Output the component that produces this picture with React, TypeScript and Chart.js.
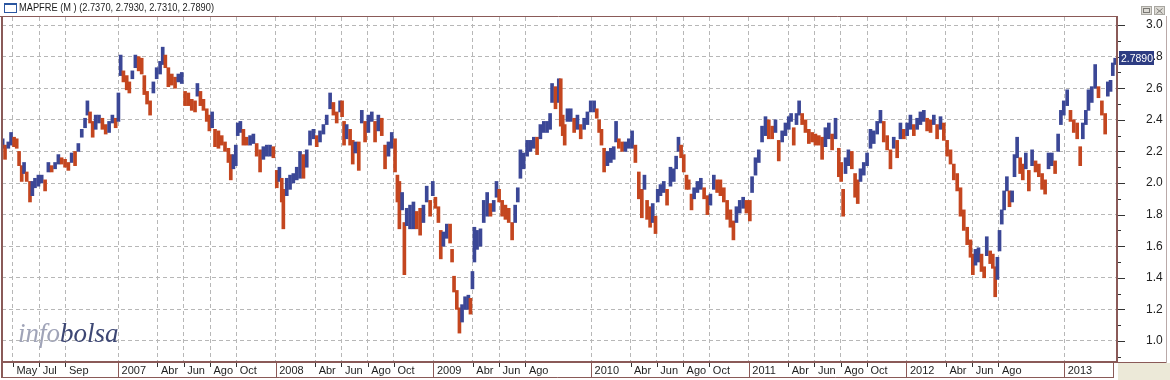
import React, { useEffect, useRef } from 'react';
import { Chart, registerables } from 'chart.js';
Chart.register(...registerables);

// ---- data -------------------------------------------------------------
const SYMBOL = 'MAPFRE (M )';
// last session: open, high, low, close
const lastBar = [2.737, 2.793, 2.731, 2.789];

// x tick positions: months since Jan 2006 (0 = Jan 2006)
const tickMonths = [4, 6, 8, 12, 15, 17, 19, 21, 24, 27, 29, 31, 33, 36, 39, 41, 43, 48, 51, 53, 55, 57, 60, 63, 65, 67, 69, 72, 75, 77, 79, 84];
const tickLabels = ['May', 'Jul', 'Sep', '2007', 'Abr', 'Jun', 'Ago', 'Oct', '2008', 'Abr', 'Jun', 'Ago', 'Oct', '2009', 'Abr', 'Jun', 'Ago', '2010', 'Abr', 'Jun', 'Ago', 'Oct', '2011', 'Abr', 'Jun', 'Ago', 'Oct', '2012', 'Abr', 'Jun', 'Ago', '2013'];

// Apr 2006 - Dec 2007 (months since Jan 2006)
const datesA = [
  3.22, 3.40, 3.65, 3.86, 4.09, 4.29, 4.47, 4.67, 4.85, 5.05,
  5.30, 5.48, 5.68, 5.94, 6.19, 6.45, 6.70, 6.95, 7.21, 7.46,
  7.71, 7.97, 8.22, 8.47, 8.73, 8.98, 9.24, 9.49, 9.67, 9.87,
  10.07, 10.30, 10.55, 10.81, 11.06, 11.32, 11.57, 11.82, 12.03, 12.20,
  12.41, 12.66, 12.86, 13.09, 13.32, 13.57, 13.80, 14.00, 14.21, 14.44,
  14.69, 14.94, 15.20, 15.40, 15.60, 15.83, 16.09, 16.34, 16.59, 16.85,
  17.10, 17.35, 17.61, 17.86, 18.04, 18.27, 18.50, 18.75, 18.95, 19.16,
  19.38, 19.64, 19.89, 20.14, 20.40, 20.58, 20.78, 20.96, 21.11, 21.31,
  21.54, 21.79, 22.05, 22.30, 22.55, 22.81, 23.06, 23.32, 23.57, 23.82,
  24.08, 24.28,
];
const highsA = [
  2.28, 2.24, 2.26, 2.32, 2.29, 2.28, 2.20, 2.11, 2.13, 2.07,
  2.01, 2.01, 2.03, 2.05, 2.05, 2.02, 2.13, 2.11, 2.13, 2.18,
  2.16, 2.15, 2.13, 2.19, 2.20, 2.25, 2.34, 2.41, 2.52, 2.45,
  2.39, 2.43, 2.43, 2.41, 2.37, 2.39, 2.43, 2.41, 2.57, 2.81,
  2.71, 2.68, 2.64, 2.71, 2.81, 2.80, 2.79, 2.68, 2.58, 2.52,
  2.64, 2.73, 2.77, 2.86, 2.81, 2.73, 2.69, 2.67, 2.69, 2.70,
  2.58, 2.57, 2.53, 2.52, 2.63, 2.58, 2.53, 2.47, 2.43, 2.45,
  2.34, 2.33, 2.30, 2.26, 2.22, 2.18, 2.18, 2.24, 2.38, 2.39,
  2.34, 2.29, 2.30, 2.31, 2.25, 2.21, 2.23, 2.24, 2.24, 2.23,
  2.08, 2.10,
];
const lowsA = [
  2.22, 2.15, 2.22, 2.24, 2.23, 2.22, 2.11, 2.01, 2.06, 2.01,
  1.88, 1.92, 1.97, 1.98, 2.00, 1.95, 2.07, 2.07, 2.09, 2.12,
  2.12, 2.10, 2.08, 2.13, 2.11, 2.20, 2.29, 2.35, 2.43, 2.38,
  2.29, 2.34, 2.38, 2.34, 2.31, 2.32, 2.38, 2.35, 2.39, 2.68,
  2.64, 2.59, 2.57, 2.66, 2.73, 2.71, 2.69, 2.56, 2.50, 2.43,
  2.57, 2.66, 2.69, 2.75, 2.73, 2.61, 2.62, 2.60, 2.64, 2.63,
  2.49, 2.49, 2.46, 2.45, 2.55, 2.49, 2.46, 2.39, 2.33, 2.35,
  2.23, 2.22, 2.24, 2.20, 2.13, 2.02, 2.09, 2.11, 2.30, 2.32,
  2.24, 2.24, 2.24, 2.25, 2.17, 2.07, 2.15, 2.17, 2.17, 2.16,
  1.97, 2.01,
];

// Jan 2008 - Oct 2009
const datesB = [
  24.46, 24.58, 24.84, 25.09, 25.34, 25.60, 25.85, 26.11, 26.36, 26.61,
  26.87, 27.12, 27.37, 27.63, 27.88, 28.14, 28.39, 28.64, 28.90, 29.05,
  29.20, 29.40, 29.66, 29.86, 30.06, 30.32, 30.55, 30.80, 31.05, 31.31,
  31.56, 31.81, 32.07, 32.32, 32.58, 32.83, 33.08, 33.26, 33.41, 33.62,
  33.79, 33.97, 34.22, 34.48, 34.73, 34.99, 35.24, 35.49, 35.75, 35.95,
  36.15, 36.38, 36.56, 36.76, 37.02, 37.27, 37.42, 37.57, 37.78, 37.98,
  38.18, 38.41, 38.66, 38.82, 38.97, 39.12, 39.32, 39.58, 39.83, 40.09,
  40.34, 40.59, 40.80, 41.00, 41.23, 41.48, 41.73, 41.99, 42.22, 42.42,
  42.62, 42.87, 43.13, 43.38, 43.64, 43.89, 44.14, 44.40, 44.65, 44.88,
  45.03, 45.29, 45.54,
];
const highsB = [
  2.03, 1.96, 2.03, 2.05, 2.06, 2.10, 2.20, 2.18, 2.21, 2.33,
  2.34, 2.30, 2.33, 2.37, 2.43, 2.57, 2.51, 2.45, 2.52, 2.52,
  2.39, 2.37, 2.34, 2.27, 2.26, 2.26, 2.46, 2.39, 2.43, 2.45,
  2.39, 2.43, 2.41, 2.24, 2.26, 2.32, 2.28, 2.05, 2.01, 1.94,
  1.75, 1.84, 1.86, 1.88, 1.82, 1.84, 1.86, 1.98, 1.89, 2.01,
  1.91, 1.85, 1.70, 1.69, 1.74, 1.74, 1.58, 1.41, 1.32, 1.21,
  1.23, 1.28, 1.29, 1.27, 1.44, 1.72, 1.70, 1.71, 1.89, 1.94,
  1.87, 1.89, 2.01, 1.96, 1.89, 1.86, 1.84, 1.75, 1.86, 1.97,
  2.21, 2.19, 2.27, 2.27, 2.29, 2.29, 2.37, 2.39, 2.39, 2.44,
  2.63, 2.61, 2.66,
];
const lowsB = [
  1.88, 1.71, 1.92, 1.96, 2.00, 2.02, 2.03, 2.03, 2.10, 2.24,
  2.28, 2.23, 2.26, 2.31, 2.37, 2.47, 2.43, 2.38, 2.45, 2.42,
  2.24, 2.28, 2.24, 2.12, 2.19, 2.08, 2.38, 2.26, 2.32, 2.39,
  2.26, 2.33, 2.30, 2.09, 2.17, 2.22, 2.07, 1.88, 1.71, 1.83,
  1.42, 1.73, 1.71, 1.71, 1.71, 1.67, 1.75, 1.88, 1.79, 1.92,
  1.84, 1.75, 1.52, 1.60, 1.65, 1.62, 1.50, 1.31, 1.20, 1.05,
  1.12, 1.20, 1.20, 1.17, 1.33, 1.50, 1.58, 1.60, 1.75, 1.79,
  1.79, 1.82, 1.91, 1.88, 1.79, 1.77, 1.75, 1.64, 1.75, 1.88,
  2.03, 2.09, 2.17, 2.20, 2.22, 2.18, 2.28, 2.32, 2.32, 2.34,
  2.51, 2.47, 2.51,
];

// Oct 2009 - Jul 2011
const datesC = [
  45.69, 45.84, 45.99, 46.20, 46.45, 46.71, 46.96, 47.21, 47.47, 47.72,
  47.97, 48.23, 48.43, 48.61, 48.79, 48.99, 49.24, 49.50, 49.72, 49.90,
  50.11, 50.36, 50.61, 50.87, 51.12, 51.37, 51.63, 51.86, 52.06, 52.26,
  52.49, 52.69, 52.90, 53.07, 53.28, 53.53, 53.78, 54.04, 54.29, 54.47,
  54.65, 54.85, 55.05, 55.26, 55.43, 55.64, 55.84, 56.09, 56.35, 56.60,
  56.85, 57.08, 57.34, 57.59, 57.84, 58.10, 58.35, 58.60, 58.83, 59.06,
  59.31, 59.57, 59.82, 60.08, 60.25, 60.51, 60.76, 61.01, 61.27, 61.52,
  61.78, 62.03, 62.28, 62.54, 62.79, 63.04, 63.22, 63.42, 63.63, 63.83,
  64.06, 64.31, 64.57, 64.82, 65.07, 65.33, 65.58, 65.83, 66.09, 66.34,
  66.60, 66.85,
];
const highsC = [
  2.66, 2.43, 2.37, 2.47, 2.47, 2.41, 2.43, 2.37, 2.41, 2.45,
  2.52, 2.52, 2.47, 2.40, 2.34, 2.22, 2.20, 2.22, 2.23, 2.39,
  2.28, 2.26, 2.26, 2.28, 2.33, 2.24, 2.07, 1.96, 2.05, 1.89,
  1.85, 1.87, 1.79, 1.96, 1.99, 2.01, 1.96, 2.10, 2.09, 2.17,
  2.29, 2.24, 2.18, 2.05, 2.02, 1.93, 1.97, 2.01, 2.03, 1.97,
  1.92, 1.93, 2.05, 2.02, 2.02, 1.97, 1.89, 1.83, 1.76, 1.85,
  1.89, 1.91, 1.89, 1.89, 2.04, 2.16, 2.21, 2.36, 2.42, 2.40,
  2.36, 2.40, 2.27, 2.33, 2.38, 2.42, 2.44, 2.35, 2.44, 2.52,
  2.44, 2.40, 2.34, 2.32, 2.31, 2.30, 2.29, 2.35, 2.38, 2.31,
  2.41, 2.22,
];
const lowsC = [
  2.36, 2.30, 2.24, 2.39, 2.39, 2.32, 2.34, 2.28, 2.34, 2.37,
  2.45, 2.45, 2.41, 2.32, 2.24, 2.07, 2.11, 2.13, 2.15, 2.26,
  2.22, 2.20, 2.20, 2.22, 2.22, 2.13, 1.90, 1.78, 1.96, 1.77,
  1.72, 1.75, 1.68, 1.88, 1.92, 1.94, 1.86, 1.98, 2.01, 2.09,
  2.20, 2.16, 2.07, 1.96, 1.96, 1.83, 1.90, 1.94, 1.96, 1.90,
  1.80, 1.86, 1.96, 1.94, 1.92, 1.88, 1.77, 1.72, 1.64, 1.75,
  1.81, 1.84, 1.81, 1.76, 1.94, 2.05, 2.13, 2.26, 2.30, 2.28,
  2.28, 2.32, 2.14, 2.26, 2.30, 2.34, 2.39, 2.24, 2.37, 2.43,
  2.37, 2.32, 2.25, 2.26, 2.24, 2.24, 2.15, 2.23, 2.28, 2.21,
  2.28, 2.04,
];

// Jul 2011 - Apr 2013
const datesD = [
  67.03, 67.18, 67.36, 67.58, 67.84, 68.09, 68.29, 68.50, 68.75, 69.00,
  69.26, 69.51, 69.77, 70.02, 70.27, 70.53, 70.78, 71.03, 71.29, 71.54,
  71.80, 72.05, 72.30, 72.56, 72.81, 73.06, 73.32, 73.57, 73.83, 74.08,
  74.33, 74.59, 74.84, 75.09, 75.35, 75.60, 75.86, 76.11, 76.36, 76.62,
  76.87, 77.05, 77.25, 77.48, 77.71, 77.91, 78.11, 78.37, 78.57, 78.75,
  78.92, 79.08, 79.25, 79.43, 79.64, 79.84, 80.04, 80.22, 80.42, 80.65,
  80.85, 81.08, 81.31, 81.56, 81.82, 82.07, 82.32, 82.55, 82.81, 83.06,
  83.31, 83.54, 83.75, 83.97, 84.23, 84.48, 84.73, 84.99, 85.22, 85.42,
  85.65, 85.85, 86.10, 86.36, 86.61, 86.87, 87.12, 87.32, 87.53, 87.70,
  87.88,
];
const highsD = [
  2.13, 1.96, 2.16, 2.21, 2.20, 2.06, 2.02, 2.09, 2.13, 2.19,
  2.34, 2.33, 2.39, 2.46, 2.39, 2.30, 2.21, 2.29, 2.27, 2.38,
  2.34, 2.38, 2.43, 2.37, 2.41, 2.45, 2.46, 2.41, 2.40, 2.43,
  2.37, 2.42, 2.38, 2.27, 2.21, 2.12, 2.06, 1.97, 1.83, 1.72,
  1.64, 1.55, 1.58, 1.59, 1.55, 1.47, 1.66, 1.57, 1.55, 1.47,
  1.53, 1.70, 1.83, 1.95, 2.04, 1.95, 1.95, 2.18, 2.29, 2.16,
  2.12, 2.19, 2.08, 2.21, 2.14, 2.12, 2.06, 2.02, 2.19, 2.19,
  2.14, 2.31, 2.46, 2.52, 2.59, 2.46, 2.40, 2.38, 2.23, 2.38,
  2.46, 2.59, 2.61, 2.75, 2.61, 2.52, 2.44, 2.64, 2.65, 2.76,
  2.79,
];
const lowsD = [
  2.01, 1.79, 2.06, 2.11, 2.09, 1.91, 1.87, 2.01, 2.05, 2.11,
  2.22, 2.25, 2.31, 2.38, 2.26, 2.21, 2.09, 2.22, 2.16, 2.28,
  2.28, 2.30, 2.34, 2.30, 2.34, 2.37, 2.39, 2.33, 2.32, 2.37,
  2.28, 2.34, 2.27, 2.17, 2.12, 2.02, 1.95, 1.79, 1.70, 1.61,
  1.53, 1.42, 1.48, 1.50, 1.44, 1.40, 1.54, 1.49, 1.46, 1.28,
  1.39, 1.57, 1.74, 1.83, 1.95, 1.85, 1.88, 2.04, 2.16, 2.06,
  2.02, 2.09, 1.95, 2.11, 2.07, 2.04, 1.96, 1.93, 2.09, 2.11,
  2.06, 2.20, 2.37, 2.43, 2.49, 2.39, 2.32, 2.28, 2.11, 2.28,
  2.37, 2.46, 2.51, 2.60, 2.54, 2.43, 2.31, 2.55, 2.58, 2.68,
  2.75,
];

// ---- styles -------------------------------------------------------------
const BLUE = '#3b4796';
const RED = '#c4461f';
const FRAME = '#8a5a58';
const GRID = '#b7b7b7';
const FONT = '"Liberation Sans", Arial, sans-serif';

const isMajor = (v: number) => Math.round(v * 10) % 2 === 0;

export default function App() {
  const ref = useRef<HTMLCanvasElement>(null);

  useEffect(() => {
    document.body.style.margin = '0';
    const canvas = ref.current;
    if (!canvas) return;

    const dates = [...datesA, ...datesB, ...datesC, ...datesD];
    const highs = [...highsA, ...highsB, ...highsC, ...highsD];
    const lows = [...lowsA, ...lowsB, ...lowsC, ...lowsD];
    const n = Math.min(dates.length, highs.length, lows.length);
    const points: { x: number; y: [number, number] }[] = [];
    const colors: string[] = [];
    let prevMid = -1;
    for (let i = 0; i < n; i++) {
      const mid = (highs[i] + lows[i]) / 2;
      points.push({ x: dates[i], y: [lows[i], highs[i]] });
      colors.push(prevMid < 0 || mid >= prevMid ? BLUE : RED);
      prevMid = mid;
    }

    const line = (ctx: CanvasRenderingContext2D, x1: number, y1: number, x2: number, y2: number) => {
      ctx.beginPath();
      ctx.moveTo(x1, y1);
      ctx.lineTo(x2, y2);
      ctx.stroke();
    };

    const decor = {
      id: 'decor',
      beforeDraw(chart: any) {
        const { ctx, width, height } = chart;
        ctx.save();
        ctx.fillStyle = '#ffffff';
        ctx.fillRect(0, 0, width, height);
        ctx.restore();
      },
      beforeDatasetsDraw(chart: any) {
        const ctx: CanvasRenderingContext2D = chart.ctx;
        ctx.save();
        ctx.textBaseline = 'alphabetic';
        ctx.textAlign = 'left';
        ctx.font = 'italic 27px "Liberation Serif", "DejaVu Serif", serif';
        ctx.fillStyle = '#a0a4b8';
        ctx.fillText('info', 18, 342);
        const w = ctx.measureText('info').width;
        ctx.fillStyle = '#3d4774';
        ctx.fillText('bolsa', 18 + w, 342);
        ctx.restore();
      },
      afterDraw(chart: any) {
        const ctx: CanvasRenderingContext2D = chart.ctx;
        const xs = chart.scales.x;
        const ys = chart.scales.y;
        const ca = chart.chartArea;
        ctx.save();

        // title bar
        ctx.strokeStyle = '#2a56a0';
        ctx.lineWidth = 1;
        ctx.strokeRect(4.5, 3.5, 12, 9);
        ctx.fillStyle = '#2a56a0';
        ctx.fillRect(4, 3, 13, 2);
        ctx.fillStyle = '#1a1a1a';
        ctx.font = '11px ' + FONT;
        ctx.textBaseline = 'middle';
        ctx.textAlign = 'left';
        const title = SYMBOL + ' (' + lastBar.map((v) => v.toFixed(4)).join(', ') + ')';
        ctx.fillText(title, 19, 8, 195);

        // window buttons
        ctx.fillStyle = '#dcdad4';
        ctx.fillRect(1141, 6, 11, 9);
        ctx.fillRect(1154, 6, 11, 9);
        ctx.strokeStyle = '#a8a6a0';
        ctx.strokeRect(1141.5, 6.5, 10, 8);
        ctx.strokeRect(1154.5, 6.5, 10, 8);
        ctx.strokeStyle = '#7a7874';
        ctx.strokeRect(1143.5, 8.5, 6, 4);
        line(ctx, 1156.5, 8.5, 1162.5, 13.5);
        line(ctx, 1162.5, 8.5, 1156.5, 13.5);

        // frame
        ctx.strokeStyle = FRAME;
        ctx.lineWidth = 1;
        line(ctx, 0, 16.5, ca.right, 16.5);
        ctx.lineWidth = 2;
        line(ctx, ca.left, 16, ca.left, 378);
        line(ctx, ca.right, 16, ca.right, ca.bottom + 1);
        line(ctx, ca.left, ca.bottom, ca.right, ca.bottom);
        ctx.lineWidth = 1;
        line(ctx, ca.left, 377.5, 1113.5, 377.5);
        line(ctx, 1113.5, ca.bottom, 1113.5, 378);
        line(ctx, ca.right, ca.bottom + 0.5, 1167, ca.bottom + 0.5);
        ctx.strokeStyle = '#b9a9a8';
        line(ctx, 1166.5, 16, 1166.5, ca.bottom + 1);

        // corner
        ctx.fillStyle = '#ece9d8';
        ctx.fillRect(ca.right + 1, ca.bottom + 1, 1170 - ca.right, 380 - ca.bottom);

        // x tick marks / year dividers in the strip
        tickMonths.forEach((m, i) => {
          const px = Math.round(xs.getPixelForValue(m)) + 0.5;
          const isYear = /^\d{4}$/.test(tickLabels[i]);
          ctx.strokeStyle = isYear ? FRAME : '#333333';
          line(ctx, px, ca.bottom + 1, px, isYear ? 377 : ca.bottom + 5);
        });

        // y tick marks
        ctx.strokeStyle = '#333333';
        ys.ticks.forEach((t: any) => {
          const py = Math.round(ys.getPixelForValue(t.value)) + 0.5;
          line(ctx, ca.right + 1, py, ca.right + (isMajor(t.value) ? 8 : 4), py);
        });

        // last value box
        const py = ys.getPixelForValue(lastBar[3]);
        ctx.fillStyle = '#2d3c82';
        ctx.fillRect(1119, Math.round(py) - 7, 35, 14);
        ctx.fillStyle = '#ffffff';
        ctx.font = '11px ' + FONT;
        ctx.textBaseline = 'middle';
        ctx.fillText(lastBar[3].toFixed(4), 1121, py + 0.5, 32);

        ctx.restore();
      },
    };

    const chart = new Chart(canvas, {
      type: 'bar',
      data: {
        datasets: [
          {
            data: points as any,
            backgroundColor: colors,
            borderWidth: 0,
            barThickness: 3,
            grouped: false,
          } as any,
        ],
      },
      options: {
        responsive: false,
        animation: false,
        events: [],
        layout: { padding: { top: 17, left: 2, right: 6, bottom: 3 } },
        plugins: { legend: { display: false }, tooltip: { enabled: false } },
        scales: {
          x: {
            type: 'linear',
            min: 3.17,
            max: 88.02,
            offset: false,
            afterBuildTicks: (scale: any) => {
              scale.ticks = tickMonths.map((v) => ({ value: v }));
            },
            afterFit: (scale: any) => {
              scale.height = 15;
            },
            grid: { color: GRID, drawTicks: true, tickLength: 2, tickColor: 'rgba(0,0,0,0)', offset: false },
            border: { display: false, dash: [4, 3] },
            ticks: {
              autoSkip: false,
              maxRotation: 0,
              minRotation: 0,
              align: 'start',
              labelOffset: 3.5,
              padding: 0.4,
              color: '#1e1e1e',
              font: { family: FONT, size: 11 },
              callback: (_v: any, i: number) => tickLabels[i],
            },
          } as any,
          y: {
            position: 'right',
            min: 0.867,
            max: 3.051,
            afterFit: (scale: any) => {
              scale.width = 47;
            },
            grid: {
              color: (c: any) => (c.tick && isMajor(c.tick.value) ? GRID : 'rgba(0,0,0,0)'),
              drawTicks: true,
              tickLength: 29,
              tickColor: 'rgba(0,0,0,0)',
            },
            border: { display: false, dash: [4, 3] },
            ticks: {
              stepSize: 0.1,
              includeBounds: false,
              autoSkip: false,
              padding: 0,
              color: '#222222',
              font: { family: FONT, size: 12 },
              callback: (v: any) => (isMajor(Number(v)) ? Number(v).toFixed(1) : ''),
            },
          } as any,
        },
      },
      plugins: [decor],
    });

    return () => chart.destroy();
  }, []);

  return (
    <div style={{ width: 1170, height: 380 }}>
      <canvas ref={ref} width={1170} height={380} style={{ display: 'block', width: 1170, height: 380 }} />
    </div>
  );
}
